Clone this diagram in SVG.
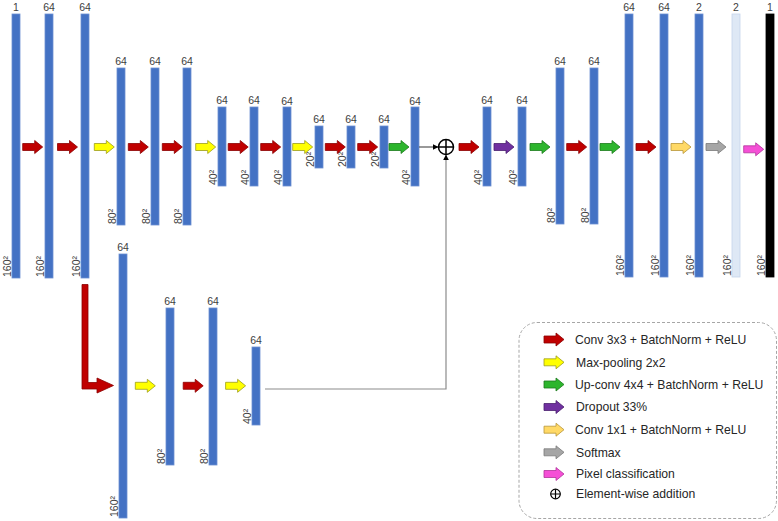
<svg xmlns="http://www.w3.org/2000/svg" width="778" height="521" viewBox="0 0 778 521">
<style>
.bar{fill:#4472C4;stroke:#6d90d2;stroke-width:0.8}
.lbar{fill:#DEE8F5;stroke:#c6d5eb;stroke-width:0.8}
.kbar{fill:#000;stroke:#000;stroke-width:0.8}
.lt{font-family:"Liberation Sans",Arial,sans-serif;font-size:10.5px;fill:#404040;text-anchor:middle}
.lb{font-family:"Liberation Sans",Arial,sans-serif;font-size:10.5px;fill:#404040}
.leg{font-family:"Liberation Sans",Arial,sans-serif;font-size:12.2px;fill:#262626}
.red{fill:#C00000;stroke:#8a0000;stroke-width:0.8}
.yel{fill:#FFFF00;stroke:#9c9c1c;stroke-width:0.8}
.grn{fill:#2DB52D;stroke:#1c7a1c;stroke-width:0.8}
.pur{fill:#7030A0;stroke:#4a1f6e;stroke-width:0.8}
.org{fill:#FFD966;stroke:#b8963a;stroke-width:0.8}
.gry{fill:#A6A6A6;stroke:#7a7a7a;stroke-width:0.8}
.pnk{fill:#F54FD6;stroke:#b0339a;stroke-width:0.8}
.line{fill:none;stroke:#8c8c8c;stroke-width:1.2}
</style>
<defs>
<path id="arr" d="M0,-3.5 H12 V-6.5 L20,0 L12,6.5 V3.5 H0 Z"/>
<marker id="ah" viewBox="0 0 10 10" refX="9" refY="5" markerWidth="6" markerHeight="6" orient="auto" markerUnits="userSpaceOnUse">
<path d="M0,0 L10,5 L0,10 Z" fill="#000"/>
</marker>
</defs>

<g id="n1"><rect class="bar" x="12" y="14" width="8" height="264"/><text class="lt" x="16" y="10.5">1</text><text class="lb" x="10.5" y="277" transform="rotate(-90 10.5 277)">160²</text></g>
<g id="n2"><rect class="bar" x="45" y="14" width="8" height="264"/><text class="lt" x="49" y="10.5">64</text><text class="lb" x="43.5" y="277" transform="rotate(-90 43.5 277)">160²</text></g>
<g id="n3"><rect class="bar" x="81" y="14" width="8" height="264"/><text class="lt" x="85" y="10.5">64</text><text class="lb" x="79.5" y="277" transform="rotate(-90 79.5 277)">160²</text></g>
<g id="n4"><rect class="bar" x="117" y="68" width="8" height="157"/><text class="lt" x="121" y="64.5">64</text><text class="lb" x="115.5" y="224" transform="rotate(-90 115.5 224)">80²</text></g>
<g id="n5"><rect class="bar" x="151" y="68" width="8" height="157"/><text class="lt" x="155" y="64.5">64</text><text class="lb" x="149.5" y="224" transform="rotate(-90 149.5 224)">80²</text></g>
<g id="n6"><rect class="bar" x="183" y="68" width="8" height="157"/><text class="lt" x="187" y="64.5">64</text><text class="lb" x="181.5" y="224" transform="rotate(-90 181.5 224)">80²</text></g>
<g id="n7"><rect class="bar" x="218" y="107" width="8" height="79"/><text class="lt" x="222" y="103.5">64</text><text class="lb" x="216.5" y="185" transform="rotate(-90 216.5 185)">40²</text></g>
<g id="n8"><rect class="bar" x="250" y="107" width="8" height="79"/><text class="lt" x="254" y="103.5">64</text><text class="lb" x="248.5" y="185" transform="rotate(-90 248.5 185)">40²</text></g>
<g id="n9"><rect class="bar" x="283" y="107" width="8" height="79"/><text class="lt" x="287" y="104.5">64</text><text class="lb" x="281.5" y="185" transform="rotate(-90 281.5 185)">40²</text></g>
<g id="n10"><rect class="bar" x="315" y="126" width="8" height="42"/><text class="lt" x="319" y="122.5">64</text><text class="lb" x="313.5" y="167" transform="rotate(-90 313.5 167)">20²</text></g>
<g id="n11"><rect class="bar" x="347" y="126" width="8" height="42"/><text class="lt" x="351" y="122.5">64</text><text class="lb" x="345.5" y="167" transform="rotate(-90 345.5 167)">20²</text></g>
<g id="n12"><rect class="bar" x="380" y="126" width="8" height="42"/><text class="lt" x="384" y="122.5">64</text><text class="lb" x="378.5" y="167" transform="rotate(-90 378.5 167)">20²</text></g>
<g id="n13"><rect class="bar" x="411" y="107" width="8" height="79"/><text class="lt" x="415" y="104.5">64</text><text class="lb" x="409.5" y="185" transform="rotate(-90 409.5 185)">40²</text></g>
<g id="add"><circle cx="446" cy="147" r="7.5" fill="#fff" stroke="#000" stroke-width="1.5"/><path d="M438.5,147 H453.5 M446,139.5 V154.5" stroke="#000" stroke-width="1.5"/></g>
<g id="n14"><rect class="bar" x="483" y="107" width="8" height="79"/><text class="lt" x="487" y="103.5">64</text><text class="lb" x="481.5" y="185" transform="rotate(-90 481.5 185)">40²</text></g>
<g id="n15"><rect class="bar" x="518" y="107" width="8" height="79"/><text class="lt" x="522" y="103.5">64</text><text class="lb" x="516.5" y="185" transform="rotate(-90 516.5 185)">40²</text></g>
<g id="n16"><rect class="bar" x="556" y="68" width="8" height="156"/><text class="lt" x="560" y="64.5">64</text><text class="lb" x="554.5" y="223" transform="rotate(-90 554.5 223)">80²</text></g>
<g id="n17"><rect class="bar" x="590" y="68" width="8" height="156"/><text class="lt" x="594" y="64.5">64</text><text class="lb" x="588.5" y="223" transform="rotate(-90 588.5 223)">80²</text></g>
<g id="n18"><rect class="bar" x="625" y="14" width="8" height="263"/><text class="lt" x="629" y="10.5">64</text><text class="lb" x="623.5" y="276" transform="rotate(-90 623.5 276)">160²</text></g>
<g id="n19"><rect class="bar" x="660" y="14" width="8" height="263"/><text class="lt" x="664" y="10.5">64</text><text class="lb" x="658.5" y="276" transform="rotate(-90 658.5 276)">160²</text></g>
<g id="n20"><rect class="bar" x="695" y="14" width="8" height="263"/><text class="lt" x="699" y="10.5">2</text><text class="lb" x="693.5" y="276" transform="rotate(-90 693.5 276)">160²</text></g>
<g id="n21"><rect class="lbar" x="732" y="14" width="8" height="263"/><text class="lt" x="736" y="10.5">2</text><text class="lb" x="730.5" y="276" transform="rotate(-90 730.5 276)">160²</text></g>
<g id="n22"><rect class="kbar" x="766" y="14" width="8" height="263"/><text class="lt" x="770" y="10.5">1</text><text class="lb" x="764.5" y="276" transform="rotate(-90 764.5 276)">160²</text></g>

<g id="b1"><rect class="bar" x="119" y="254" width="8" height="264"/><text class="lt" x="123" y="250.5">64</text><text class="lb" x="117.5" y="517" transform="rotate(-90 117.5 517)">160²</text></g>
<g id="b2"><rect class="bar" x="166" y="308" width="8" height="157"/><text class="lt" x="170" y="304.5">64</text><text class="lb" x="164.5" y="464" transform="rotate(-90 164.5 464)">80²</text></g>
<g id="b3"><rect class="bar" x="209" y="308" width="8" height="157"/><text class="lt" x="213" y="304.5">64</text><text class="lb" x="207.5" y="464" transform="rotate(-90 207.5 464)">80²</text></g>
<g id="b4"><rect class="bar" x="252" y="347" width="8" height="78"/><text class="lt" x="256" y="343.5">64</text><text class="lb" x="250.5" y="424" transform="rotate(-90 250.5 424)">40²</text></g>

<g id="connectors">
<use href="#arr" class="red" x="22.7" y="147"/>
<use href="#arr" class="red" x="57.5" y="147"/>
<use href="#arr" class="yel" x="94.3" y="147"/>
<use href="#arr" class="red" x="128.3" y="147"/>
<use href="#arr" class="red" x="162.3" y="147"/>
<use href="#arr" class="yel" x="195.7" y="147"/>
<use href="#arr" class="red" x="228.2" y="147"/>
<use href="#arr" class="red" x="260.7" y="147"/>
<use href="#arr" class="yel" x="292.7" y="147"/>
<use href="#arr" class="red" x="325.3" y="147"/>
<use href="#arr" class="red" x="357.7" y="147"/>
<use href="#arr" class="grn" x="389" y="147"/>
<use href="#arr" class="red" x="459" y="147"/>
<use href="#arr" class="pur" x="494" y="147"/>
<use href="#arr" class="grn" x="530" y="147"/>
<use href="#arr" class="red" x="566.7" y="147"/>
<use href="#arr" class="grn" x="600" y="147"/>
<use href="#arr" class="red" x="636" y="147"/>
<use href="#arr" class="org" x="671" y="147"/>
<use href="#arr" class="gry" x="706" y="147"/>
<use href="#arr" class="pnk" x="743.7" y="149.3"/>
<path d="M419,147 H438" fill="none" stroke="#555" stroke-width="1.2" marker-end="url(#ah)"/>
<path class="line" d="M265,389 H446 V155" marker-end="url(#ah)"/>
<path class="red" d="M82,284.5 H88 V382.5 H97 V378 L113.5,385.5 L97,393 V389 H82 Z"/>
<use href="#arr" class="yel" x="135.3" y="385.8"/>
<use href="#arr" class="red" x="183.2" y="385.8"/>
<use href="#arr" class="yel" x="225.6" y="385.8"/>
</g>

<g id="legend">
<rect x="519" y="322.5" width="257.5" height="196" rx="18" fill="none" stroke="#a6a6a6" stroke-width="1" stroke-dasharray="3,2"/>
<use href="#arr" class="red" x="544" y="339.5"/>
<text class="leg" x="575" y="343.8">Conv 3x3 + BatchNorm + ReLU</text>
<use href="#arr" class="yel" x="544" y="362.3"/>
<text class="leg" x="576" y="366.6">Max-pooling 2x2</text>
<use href="#arr" class="grn" x="544" y="384.5"/>
<text class="leg" x="575" y="388.8">Up-conv 4x4 + BatchNorm + ReLU</text>
<use href="#arr" class="pur" x="544" y="407"/>
<text class="leg" x="576" y="411.3">Dropout 33%</text>
<use href="#arr" class="org" x="544" y="429.7"/>
<text class="leg" x="575" y="434">Conv 1x1 + BatchNorm + ReLU</text>
<use href="#arr" class="gry" x="544" y="452.3"/>
<text class="leg" x="576" y="456.6">Softmax</text>
<use href="#arr" class="pnk" x="544" y="474"/>
<text class="leg" x="576" y="478.3">Pixel classification</text>
<circle cx="555.5" cy="494" r="4.8" fill="none" stroke="#000" stroke-width="1.2"/>
<path d="M550.7,494 H560.3 M555.5,489.2 V498.8" stroke="#000" stroke-width="1.2"/>
<text class="leg" x="576" y="498.3">Element-wise addition</text>
</g>
</svg>
